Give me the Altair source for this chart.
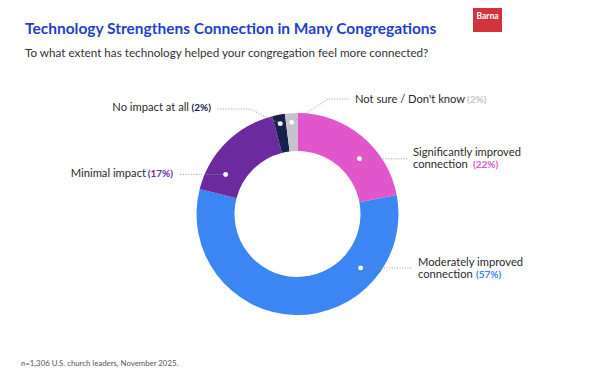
import math
import altair as alt
import pandas as pd

# ---------------- data ----------------
categories = [
    "Significantly improved connection",
    "Moderately improved connection",
    "Minimal impact",
    "No impact at all",
    "Not sure / Don't know",
]
values = [22, 57, 17, 2, 2]
colors = ["#E157CB", "#3B86F3", "#6B2A9D", "#18204E", "#C5C4CD"]
pct_colors = ["#E157CB", "#3B86F3", "#6B2A9D", "#18204E", "#ABABAB"]
label_lines = [
    ["Significantly improved", "connection"],
    ["Moderately improved", "connection"],
    ["Minimal impact"],
    ["No impact at all"],
    ["Not sure / Don't know"],
]

title = "Technology Strengthens Connection in Many Congregations"
subtitle = "To what extent has technology helped your congregation feel more connected?"
note = "=1,306 U.S. church leaders, November 2025."

# ---------------- layout (reference pixel coordinates) ----------------
CX, CY = 297.5, 214.0
R_OUT, R_IN = 101, 63
dot_frac = [0.61, 0.25, 0.235, 0.5, 0.5]
dot_rad = [83, 83, 82, 92, 92]
# right side: label and pct start at label_x / pct_x (left aligned)
# left side: label ends at label_x, pct ends at pct_x (right aligned)
label_side = ["right", "right", "left", "left", "right"]
label_x = [413, 418, 146, 189, 355]
label_y = [153, 263, 174, 108, 100]
pct_x = [473, 476, 173, 211, 467]
leader_pts = [
    [(409, None)],
    [(412, None)],
    [(180, None)],
    [(250, 109), (217, 109)],
    [(328, 99), (350, 99)],
]
LINE_H = 11.5
FONT = "Lato"

# ---------------- derived tables ----------------
rows, dots, leaders, texts, pcts = [], [], [], [], []
start = 0
for i, (c, v) in enumerate(zip(categories, values)):
    rows.append({"cat": c, "value": v, "idx": i})
    a = (start + dot_frac[i] * v) / sum(values) * 2 * math.pi
    dx = CX + dot_rad[i] * math.sin(a)
    dy = CY - dot_rad[i] * math.cos(a)
    dots.append({"cat": c, "x": dx, "y": dy})
    pts = [(dx, dy)] + [(px, dy if py is None else py) for px, py in leader_pts[i]]
    for k, (px, py) in enumerate(pts):
        leaders.append({"cat": c, "x": px, "y": py, "seq": k})
    n = len(label_lines[i])
    for k, line in enumerate(label_lines[i]):
        texts.append({"cat": c, "text": line, "x": label_x[i],
                      "y": label_y[i] + k * LINE_H, "side": label_side[i]})
    pcts.append({"cat": c, "text": f"({v}%)", "x": pct_x[i],
                 "y": label_y[i] + (n - 1) * LINE_H, "side": label_side[i]})
    start += v

df = pd.DataFrame(rows)
dots_df = pd.DataFrame(dots)
lead_df = pd.DataFrame(leaders)
text_df = pd.DataFrame(texts)
pct_df = pd.DataFrame(pcts)

W, H = 584, 368
xs = alt.Scale(domain=[8, 8 + W], range=[0, W], zero=False, nice=False)
ys = alt.Scale(domain=[8, 8 + H], range=[0, H], zero=False, nice=False)
X = alt.X("x:Q", scale=xs, axis=None)
Y = alt.Y("y:Q", scale=ys, axis=None)
color_scale = alt.Scale(domain=categories, range=colors)
pct_scale = alt.Scale(domain=categories, range=pct_colors)

donut = alt.Chart(df).mark_arc(radius=R_OUT, radius2=R_IN).encode(
    theta=alt.Theta("value:Q", stack=True),
    order=alt.Order("idx:Q"),
    color=alt.Color("cat:N", scale=color_scale, legend=None),
    x=alt.value(CX - 8),
    y=alt.value(CY - 8),
)

lines = alt.Chart(lead_df).mark_line(
    color="#8f8f8f", strokeWidth=0.9, strokeDash=[1, 1.6]
).encode(x=X, y=Y, detail="cat:N", order="seq:Q")

points = alt.Chart(dots_df).mark_circle(size=24, color="white", opacity=1).encode(x=X, y=Y)

def label_layer(side):
    return alt.Chart(text_df).transform_filter(alt.datum.side == side).mark_text(
        align="left" if side == "right" else "right", baseline="middle",
        font=FONT, fontSize=11.2, color="#2b2b2b",
    ).encode(x=X, y=Y, text="text:N")

def pct_layer(side):
    return alt.Chart(pct_df).transform_filter(alt.datum.side == side).mark_text(
        align="left" if side == "right" else "right", baseline="middle",
        font=FONT, fontSize=10, fontWeight="bold",
    ).encode(x=X, y=Y, text="text:N",
             color=alt.Color("cat:N", scale=pct_scale, legend=None))

title_t = alt.Chart(pd.DataFrame({"t": [title]})).mark_text(
    align="left", baseline="middle", font=FONT, fontSize=15.5,
    fontWeight="bold", color="#1F3FCC",
).encode(text="t:N", x=alt.value(25 - 8), y=alt.value(29 - 8))

sub_t = alt.Chart(pd.DataFrame({"t": [subtitle]})).mark_text(
    align="left", baseline="middle", font=FONT, fontSize=11.7,
    color="#333333",
).encode(text="t:N", x=alt.value(25 - 8), y=alt.value(53 - 8))

note_n = alt.Chart(pd.DataFrame({"t": ["n"]})).mark_text(
    align="left", baseline="middle", font=FONT, fontSize=7.8,
    fontStyle="italic", color="#555555",
).encode(text="t:N", x=alt.value(21 - 8), y=alt.value(364 - 8))
note_t = alt.Chart(pd.DataFrame({"t": [note]})).mark_text(
    align="left", baseline="middle", font=FONT, fontSize=7.8, color="#555555",
).encode(text="t:N", x=alt.value(25.3 - 8), y=alt.value(364 - 8))

logo_rect = alt.Chart(pd.DataFrame({"a": [0]})).mark_rect(color="#D1343C").encode(
    x=alt.value(473 - 8), x2=alt.value(502 - 8), y=alt.value(0), y2=alt.value(32 - 8)
)
logo_txt = alt.Chart(pd.DataFrame({"t": ["Barna"]})).mark_text(
    align="center", baseline="middle", font=FONT, fontSize=8.5,
    fontWeight="bold", color="white",
).encode(text="t:N", x=alt.value(487.5 - 8), y=alt.value(16 - 8))

chart = alt.layer(
    donut, lines, points, label_layer("left"), label_layer("right"),
    pct_layer("left"), pct_layer("right"),
    title_t, sub_t, note_n, note_t, logo_rect, logo_txt
).properties(
    width=W, height=H, autosize=alt.AutoSizeParams(type="none"),
    padding=0, background="white",
).configure_view(stroke=None)

chart.save("out.html", embed_options={"renderer": "svg", "actions": False})
